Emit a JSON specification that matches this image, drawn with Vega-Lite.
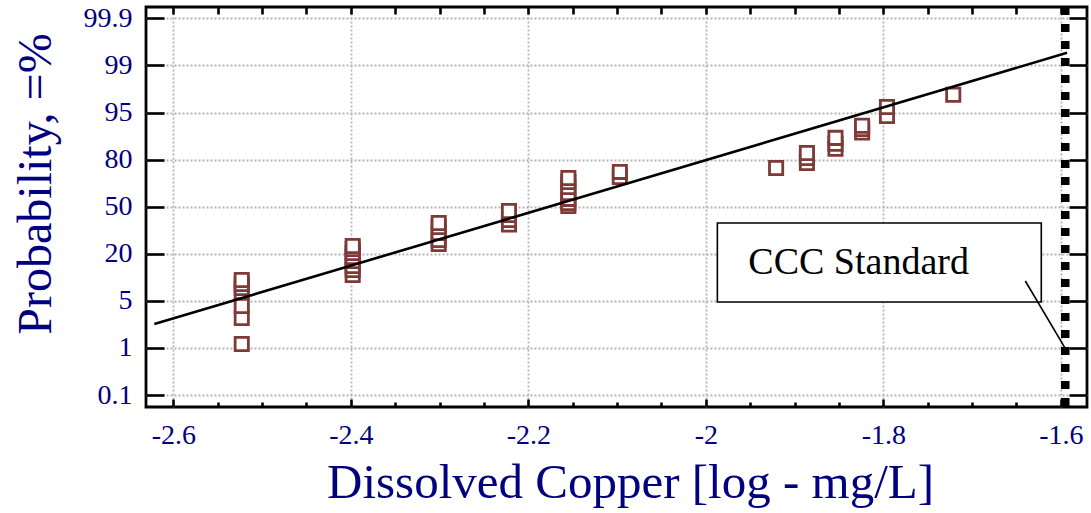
{
  "$schema": "https://vega.github.io/schema/vega-lite/v6.json",
  "width": 941,
  "height": 400,
  "autosize": "none",
  "padding": {"left": 146, "top": 7, "right": 4, "bottom": 106},
  "background": "white",
  "config": {
    "view": {"stroke": "black", "strokeWidth": 2.8},
    "font": "Liberation Serif",
    "axis": {
      "labelFont": "Liberation Serif",
      "titleFont": "Liberation Serif",
      "labelColor": "#000080",
      "titleColor": "#000080",
      "labelFontSize": 28,
      "titleFontSize": 48,
      "titleFontWeight": "normal",
      "gridColor": "#b4b4b4",
      "gridDash": [2, 2],
      "gridWidth": 1.8,
      "gridOpacity": 1,
      "tickColor": "black",
      "tickWidth": 2.6,
      "domain": false,
      "labelOverlap": false,
      "labelBound": false,
      "labelFlush": false
    }
  },
  "datasets": {
    "points": [
      {"log_cu": -2.5229, "prob": 1.33},
      {"log_cu": -2.5229, "prob": 3.54},
      {"log_cu": -2.5229, "prob": 4.56},
      {"log_cu": -2.5229, "prob": 7.81},
      {"log_cu": -2.5229, "prob": 9.08},
      {"log_cu": -2.5229, "prob": 10.36},
      {"log_cu": -2.5229, "prob": 11.63},
      {"log_cu": -2.3979, "prob": 13.22},
      {"log_cu": -2.3979, "prob": 14.82},
      {"log_cu": -2.3979, "prob": 16.09},
      {"log_cu": -2.3979, "prob": 17.69},
      {"log_cu": -2.3979, "prob": 18.96},
      {"log_cu": -2.3979, "prob": 20.47},
      {"log_cu": -2.3979, "prob": 23.01},
      {"log_cu": -2.3979, "prob": 24.92},
      {"log_cu": -2.301, "prob": 26.2},
      {"log_cu": -2.301, "prob": 28.75},
      {"log_cu": -2.301, "prob": 33.2},
      {"log_cu": -2.301, "prob": 37.0},
      {"log_cu": -2.301, "prob": 39.6},
      {"log_cu": -2.2218, "prob": 38.6},
      {"log_cu": -2.2218, "prob": 41.5},
      {"log_cu": -2.2218, "prob": 44.7},
      {"log_cu": -2.2218, "prob": 47.2},
      {"log_cu": -2.1549, "prob": 50.4},
      {"log_cu": -2.1549, "prob": 52.3},
      {"log_cu": -2.1549, "prob": 54.9},
      {"log_cu": -2.1549, "prob": 58.7},
      {"log_cu": -2.1549, "prob": 62.5},
      {"log_cu": -2.1549, "prob": 65.7},
      {"log_cu": -2.1549, "prob": 68.2},
      {"log_cu": -2.0969, "prob": 68.9},
      {"log_cu": -2.0969, "prob": 72.1},
      {"log_cu": -1.9208, "prob": 74.6},
      {"log_cu": -1.8861, "prob": 77.8},
      {"log_cu": -1.8861, "prob": 80.5},
      {"log_cu": -1.8861, "prob": 82.1},
      {"log_cu": -1.8539, "prob": 83.4},
      {"log_cu": -1.8539, "prob": 85.0},
      {"log_cu": -1.8539, "prob": 86.9},
      {"log_cu": -1.8239, "prob": 88.6},
      {"log_cu": -1.8239, "prob": 89.7},
      {"log_cu": -1.8239, "prob": 90.8},
      {"log_cu": -1.7959, "prob": 93.9},
      {"log_cu": -1.7959, "prob": 95.46},
      {"log_cu": -1.7212, "prob": 96.5}
    ],
    "fit": [
      {"log_cu": -2.6214, "prob": 3.03},
      {"log_cu": -1.593, "prob": 99.24}
    ],
    "ccc": [{"log_cu": -1.595}],
    "box": [{"x1": -1.987, "x2": -1.622, "p1": 39.6, "p2": 4.9}],
    "label": [{"log_cu": -1.9521, "prob": 13.55, "text": "CCC Standard"}],
    "pointer": [{"x1": -1.64, "p1": 11.3, "x2": -1.595, "p2": 0.99}]
  },
  "layer": [
    {
      "data": {"name": "ccc"},
      "mark": {"type": "rule", "color": "black", "strokeWidth": 8.5, "strokeDash": [8, 9]},
      "encoding": {
        "x": {
          "field": "log_cu", "type": "quantitative",
          "scale": {"domain": [-2.6308, -1.5705], "nice": false, "zero": false},
          "axis": {
            "orient": "bottom",
            "values": [-2.6, -2.4, -2.2, -2, -1.8, -1.6],
            "ticks": false,
            "labelPadding": 14,
            "labelExpr": "'' + datum.value",
            "grid": true,
            "title": "Dissolved Copper [log - mg/L]",
            "titleFontSize": 49,
            "titleX": 484,
            "titleY": 90,
            "titleBaseline": "alphabetic",
            "titleAlign": "center"
          }
        }
      }
    },
    {
      "data": {"name": "points"},
      "mark": {"type": "point", "shape": "square", "filled": true, "fill": "white", "stroke": "#7e3a37", "strokeWidth": 2.8, "size": 175, "opacity": 1},
      "encoding": {
        "x": {
          "field": "log_cu", "type": "quantitative",
          "scale": {"domain": [-2.6308, -1.5705], "nice": false, "zero": false},
          "axis": {
            "orient": "bottom",
            "values": [-2.55, -2.5, -2.45, -2.35, -2.3, -2.25, -2.15, -2.1, -2.05, -1.95, -1.9, -1.85, -1.75, -1.7, -1.65],
            "labels": false,
            "tickSize": 5,
            "offset": -5,
            "grid": false,
            "title": null
          }
        },
        "y": {
          "field": "prob", "type": "quantitative",
          "scale": {"type": "linear", "domain": [0.1, 1, 5, 20, 50, 80, 95, 99, 99.9], "range": [388, 340.9, 293.8, 246.7, 199.6, 152.5, 105.5, 58.4, 11.3], "zero": false, "nice": false},
          "axis": {
            "orient": "left",
            "values": [0.1, 1, 5, 20, 50, 80, 95, 99, 99.9],
            "ticks": false,
            "labelPadding": 14,
            "labelExpr": "'' + datum.value",
            "grid": true,
            "title": "Probability, =%",
            "titleX": -96,
            "titleY": 176.5,
            "titleBaseline": "alphabetic",
            "titleAlign": "center",
            "titleAngle": 270
          }
        }
      }
    },
    {
      "data": {"name": "fit"},
      "mark": {"type": "line", "color": "black", "strokeWidth": 2.6},
      "encoding": {
        "x": {
          "field": "log_cu", "type": "quantitative",
          "scale": {"domain": [-2.6308, -1.5705], "nice": false, "zero": false},
          "axis": {
            "orient": "bottom",
            "values": [-2.6, -2.4, -2.2, -2, -1.8, -1.6],
            "labels": false,
            "tickSize": 8,
            "offset": -8,
            "grid": false,
            "title": null
          }
        },
        "y": {
          "field": "prob", "type": "quantitative",
          "scale": {"type": "linear", "domain": [0.1, 1, 5, 20, 50, 80, 95, 99, 99.9], "range": [388, 340.9, 293.8, 246.7, 199.6, 152.5, 105.5, 58.4, 11.3], "zero": false, "nice": false},
          "axis": {
            "orient": "left",
            "values": [0.1, 1, 5, 20, 50, 80, 95, 99, 99.9],
            "labels": false,
            "tickSize": 18,
            "offset": -18,
            "grid": false,
            "title": null
          }
        }
      }
    },
    {
      "data": {"name": "box"},
      "mark": {"type": "rect", "fill": "white", "stroke": "black", "strokeWidth": 1.6},
      "encoding": {
        "x": {
          "field": "x1", "type": "quantitative",
          "scale": {"domain": [-2.6308, -1.5705], "nice": false, "zero": false},
          "axis": {
            "orient": "top",
            "values": [-2.6, -2.55, -2.5, -2.45, -2.4, -2.35, -2.3, -2.25, -2.2, -2.15, -2.1, -2.05, -2, -1.95, -1.9, -1.85, -1.8, -1.75, -1.7, -1.65, -1.6],
            "labels": false,
            "tickSize": 7,
            "offset": -7,
            "grid": false,
            "title": null
          }
        },
        "x2": {"field": "x2"},
        "y": {
          "field": "p1", "type": "quantitative",
          "scale": {"type": "linear", "domain": [0.1, 1, 5, 20, 50, 80, 95, 99, 99.9], "range": [388, 340.9, 293.8, 246.7, 199.6, 152.5, 105.5, 58.4, 11.3], "zero": false, "nice": false},
          "axis": {
            "orient": "right",
            "values": [0.1, 1, 5, 20, 50, 80, 95, 99, 99.9],
            "labels": false,
            "tickSize": 18,
            "offset": -18,
            "grid": false,
            "title": null
          }
        },
        "y2": {"field": "p2"}
      }
    },
    {
      "data": {"name": "label"},
      "mark": {"type": "text", "align": "left", "baseline": "alphabetic", "font": "Liberation Serif", "fontSize": 38, "color": "black"},
      "encoding": {
        "x": {"field": "log_cu", "type": "quantitative", "axis": null},
        "y": {"field": "prob", "type": "quantitative", "axis": null},
        "text": {"field": "text"}
      }
    },
    {
      "data": {"name": "pointer"},
      "mark": {"type": "rule", "color": "black", "strokeWidth": 1.6},
      "encoding": {
        "x": {"field": "x1", "type": "quantitative", "axis": null},
        "x2": {"field": "x2"},
        "y": {"field": "p1", "type": "quantitative", "axis": null},
        "y2": {"field": "p2"}
      }
    }
  ],
  "resolve": {"axis": {"x": "independent", "y": "independent"}}
}
